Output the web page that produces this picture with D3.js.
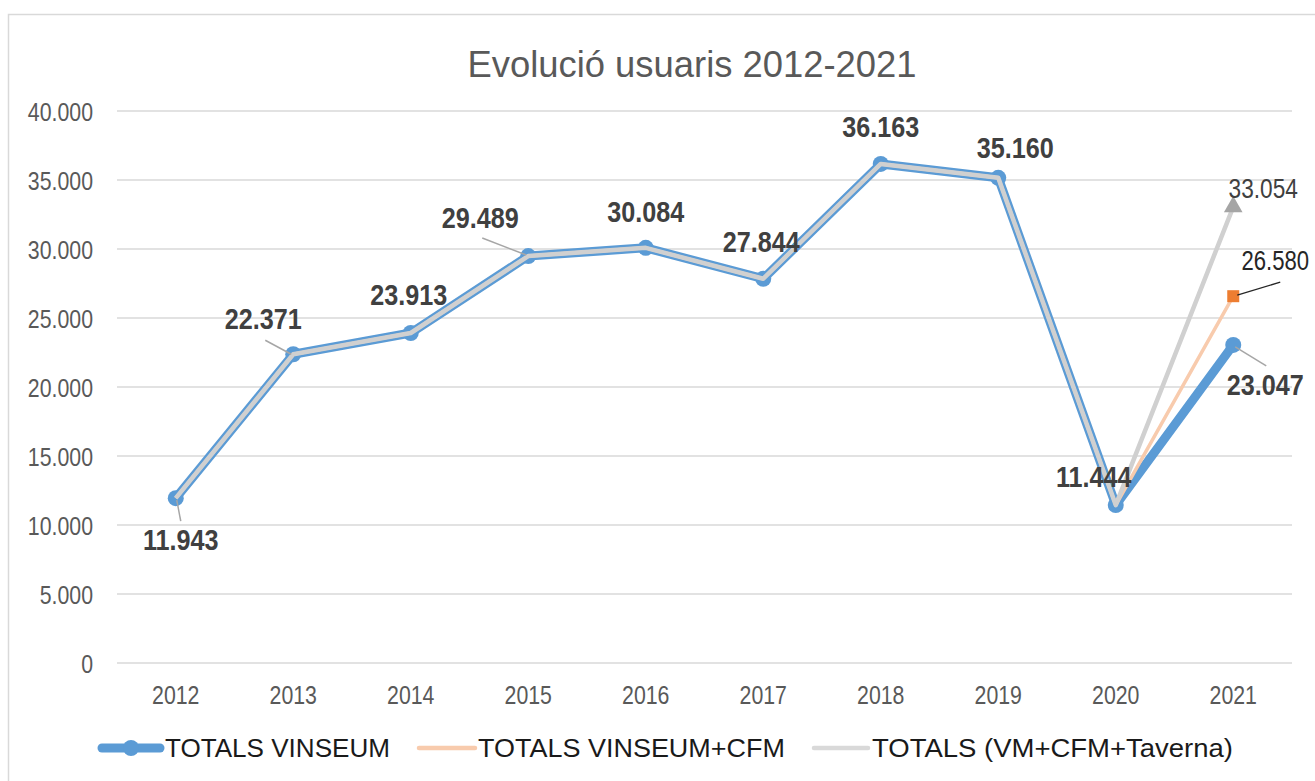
<!DOCTYPE html>
<html><head><meta charset="utf-8">
<script src="https://cdn.jsdelivr.net/npm/d3@7"></script>
<style>
html,body{margin:0;padding:0;background:#fff;}
svg{display:block;}
text{font-family:"Liberation Sans",Arial,sans-serif;}
</style></head>
<body>
<svg id="chart" width="1315" height="781"></svg>
<script>
const title = "Evolució usuaris 2012-2021";
const years = ["2012","2013","2014","2015","2016","2017","2018","2019","2020","2021"];
const vinseum = [11943,22371,23913,29489,30084,27844,36163,35160,11444,23047];
const vinseumCfm = [11943,22371,23913,29489,30084,27844,36163,35160,11444,26580];
const totalsAll = [11943,22371,23913,29489,30084,27844,36163,35160,11444,33054];
const yTicks = [0,5000,10000,15000,20000,25000,30000,35000,40000];
const seriesNames = ["TOTALS VINSEUM","TOTALS VINSEUM+CFM","TOTALS (VM+CFM+Taverna)"];

// label placement (offsets from the point, in px) – layout only
const blueLabelOff = [[5,52],[-30,-25],[-2,-28],[-48,-28],[0,-26],[-2,-27],[0,-27],[17,-20],[-22,-18],[32,50]];
const blueLeader = {0:[[1,2],[5,23]],1:[[-28,-14],[-2,0]],3:[[-46,-18],[-2,-1]],9:[[2,2],[33,21]]};

const svg = d3.select("#chart");
const fmt = v => d3.format(",")(v).replace(/,/g,".");

// place a text at (x,y), horizontally compressed by f around its anchor
function placeText(sel, xf, yf, f){
  sel.each(function(d,i){
    const px = xf(d,i), py = yf(d,i);
    this.setAttribute("x",0); this.setAttribute("y",0);
    this.setAttribute("transform",`translate(${px},${py}) scale(${f},1)`);
  });
}

svg.append("rect").attr("x",8.5).attr("y",14.5).attr("width",1330).attr("height",820)
  .attr("fill","#fff").attr("stroke","#d9d9d9").attr("stroke-width",1.5);

const x = d3.scaleBand().domain(years).range([117,1292]);
const cx = d => x(d) + x.bandwidth()/2;
const y = d3.scaleLinear().domain([0,40000]).range([663,111]);

// gridlines
svg.append("g").selectAll("line").data(yTicks).join("line")
  .attr("x1",117).attr("x2",1292).attr("y1",d=>y(d)).attr("y2",d=>y(d))
  .attr("stroke","#d9d9d9").attr("stroke-width",1.5);

// y axis labels
const yAxis = d3.axisLeft(y).tickValues(yTicks).tickFormat(fmt).tickSize(0).tickPadding(0);
const gy = svg.append("g").attr("transform","translate(93,0)").call(yAxis);
gy.attr("font-family",null).attr("font-size",null);
gy.select(".domain").remove();
gy.selectAll("text").attr("font-size",26).attr("fill","#595959").attr("dy","0.35em")
  .attr("x",0).attr("transform","scale(0.82,1)");

// x axis labels
const xAxis = d3.axisBottom(x).tickSize(0).tickPadding(0);
const gx = svg.append("g").attr("transform","translate(0,685)").call(xAxis);
gx.attr("font-family",null).attr("font-size",null);
gx.select(".domain").remove();
gx.selectAll("text").attr("font-size",26).attr("fill","#595959").attr("dy","0.72em")
  .attr("y",0).attr("transform","scale(0.82,1)");

// title
svg.append("text").attr("x",692).attr("y",77).attr("text-anchor","middle")
  .attr("font-size",36).attr("fill","#595959").text(title)
  .attr("textLength",449).attr("lengthAdjust","spacingAndGlyphs");

const line = d3.line().x((d,i)=>cx(years[i])).y(d=>y(d));

// blue series
svg.append("path").datum(vinseum).attr("d",line).attr("fill","none")
  .attr("stroke","#5b9bd5").attr("stroke-width",9).attr("stroke-linejoin","round").attr("stroke-linecap","round");
svg.append("g").selectAll("circle").data(vinseum).join("circle")
  .attr("cx",(d,i)=>cx(years[i])).attr("cy",d=>y(d)).attr("r",8).attr("fill","#5b9bd5");

// orange series
svg.append("path").datum(vinseumCfm).attr("d",line).attr("fill","none")
  .attr("stroke","#f8cbad").attr("stroke-width",3.5).attr("stroke-linejoin","round");
// gray series
svg.append("path").datum(totalsAll).attr("d",line).attr("fill","none")
  .attr("stroke","#d0d0d0").attr("stroke-width",4.5).attr("stroke-linejoin","round");

const last = years.length-1;
// orange square marker
svg.append("rect").attr("x",cx(years[last])-6).attr("y",y(vinseumCfm[last])-6)
  .attr("width",12).attr("height",12).attr("fill","#ed7d31");
// gray triangle marker
const tx = cx(years[last]), ty = y(totalsAll[last]);
svg.append("path").attr("d",d3.symbol().type(d3.symbolTriangle).size(150)())
  .attr("transform",`translate(${tx},${ty})`).attr("fill","#a5a5a5");

// leader lines for blue labels
Object.entries(blueLeader).forEach(([i,seg])=>{
  const px = cx(years[i]), py = y(vinseum[i]);
  svg.append("line").attr("x1",px+seg[0][0]).attr("y1",py+seg[0][1]).attr("x2",px+seg[1][0]).attr("y2",py+seg[1][1])
    .attr("stroke","#a6a6a6").attr("stroke-width",1.5);
});
// blue labels
svg.append("g").selectAll("text").data(vinseum).join("text")
  .attr("text-anchor","middle").attr("font-size",30).attr("font-weight","bold").attr("fill","#404040")
  .text(d=>fmt(d))
  .call(placeText,(d,i)=>cx(years[i])+blueLabelOff[i][0],(d,i)=>y(d)+blueLabelOff[i][1],0.84);

// orange label + leader
const ox = cx(years[last]), oy = y(vinseumCfm[last]);
svg.append("line").attr("x1",ox+4).attr("y1",oy-1).attr("x2",ox+47).attr("y2",oy-14)
  .attr("stroke","#262626").attr("stroke-width",1.3);
svg.append("text").attr("text-anchor","middle")
  .attr("font-size",27).attr("fill","#262626").text(fmt(vinseumCfm[last]))
  .call(placeText,()=>ox+42,()=>oy-26,0.82);
// gray label
svg.append("text").attr("text-anchor","middle")
  .attr("font-size",27).attr("fill","#404040").text(fmt(totalsAll[last]))
  .call(placeText,()=>tx+30,()=>ty-9,0.84);

// legend
const leg = svg.append("g");
const legItems = [
  {name:seriesNames[0], x1:102, x2:160, tx:165, w:225},
  {name:seriesNames[1], x1:419, x2:475, tx:478, w:307},
  {name:seriesNames[2], x1:814, x2:868, tx:872, w:361}
];
const legColors = ["#5b9bd5","#f8cbad","#d9d9d9"];
const legWidths = [9,4.5,4.5];
legItems.forEach((it,i)=>{
  leg.append("line").attr("x1",it.x1).attr("x2",it.x2).attr("y1",748).attr("y2",748)
    .attr("stroke",legColors[i]).attr("stroke-width",legWidths[i]).attr("stroke-linecap","round");
  if(i===0) leg.append("circle").attr("cx",(it.x1+it.x2)/2).attr("cy",748).attr("r",8).attr("fill","#5b9bd5");
  leg.append("text").attr("x",it.tx).attr("y",757).attr("font-size",26).attr("fill","#1a1a1a").text(it.name)
    .attr("textLength",it.w).attr("lengthAdjust","spacingAndGlyphs");
});
</script>
</body></html>
